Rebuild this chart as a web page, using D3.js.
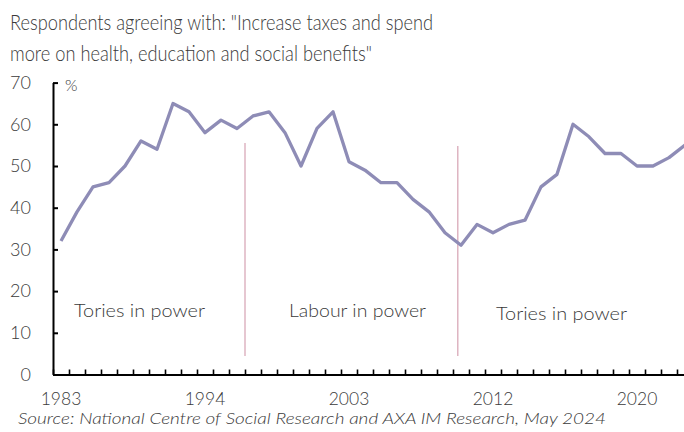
<!DOCTYPE html>
<html>
<head>
<meta charset="utf-8">
<script src="https://cdn.jsdelivr.net/npm/d3@7"></script>
<style>
  html, body { margin: 0; padding: 0; background: #ffffff; }
  svg { display: block; }
  text { font-family: Lato, "Open Sans", sans-serif; fill: #3a3a3a; }
</style>
</head>
<body>
<svg id="chart" width="684" height="432"></svg>
<script>
// ---- Data ----
const categories = ["1983","1984","1985","1986","1987","1989","1990","1991","1993","1994",
  "1995","1996","1997","1998","1999","2000","2001","2002","2003","2004",
  "2005","2006","2007","2008","2009","2010","2011","2012","2013","2014",
  "2015","2016","2017","2018","2019","2019b","2020","2021","2022","2023"];
const values = [32,39,45,46,50,56,54,65,63,58,
  61,59,62,63,58,50,59,63,51,49,
  46,46,42,39,34,31,36,34,36,37,
  45,48,60,57,53,53,50,50,52,55];
const xTickLabels = ["1983","1994","2003","2012","2020"];
const xTickLabelIndex = [0, 9, 18, 27, 36];
const yTicks = [0,10,20,30,40,50,60,70];
const eraLabels = ["Tories in power","Labour in power","Tories in power"];
const eraBoundaries = [12, 25.3]; // category-edge positions of government changes
const titleLines = ["Respondents agreeing with: \"Increase taxes and spend",
                    "more on health, education and social benefits\""];
const sourceText = "Source: National Centre of Social Research and AXA IM Research, May 2024";

// ---- Layout ----
const svg = d3.select("#chart");
svg.append("rect").attr("width",684).attr("height",432).attr("fill","#fff");

const plotLeft = 53, plotRight = 693, plotTop = 82.6, plotBottom = 374.5;

const x = d3.scaleBand().domain(d3.range(categories.length)).range([plotLeft, plotRight]).padding(0);
const xEdge = d3.scaleLinear().domain([0, categories.length]).range([plotLeft, plotRight]);
const y = d3.scaleLinear().domain([0, 70]).range([plotBottom, plotTop]);

// Title
svg.selectAll("text.title").data(titleLines).enter().append("text")
  .attr("class","title")
  .attr("x", 10).attr("y", (d,i) => 30 + i*31)
  .attr("font-size", 21)
  .attr("font-weight", 300)
  .attr("fill", "#2e2e2e")
  .attr("textLength", (d,i) => i === 0 ? 423 : 362)
  .attr("lengthAdjust", "spacingAndGlyphs")
  .text(d => d);

// Era divider lines
svg.selectAll("line.era").data(eraBoundaries).enter().append("line")
  .attr("class","era")
  .attr("x1", d => xEdge(d)).attr("x2", d => xEdge(d))
  .attr("y1", (d,i) => i === 0 ? 143 : 146).attr("y2", 356)
  .attr("stroke", "#d9a9b8").attr("stroke-width", 1.3);

// Era labels
const eraX = [139.5, 357.5, 561.5];
const eraY = [317, 317, 320];
const eraW = [131, 137, 131];
svg.selectAll("text.era").data(eraLabels).enter().append("text")
  .attr("class","era")
  .attr("x", (d,i) => eraX[i]).attr("y", (d,i) => eraY[i])
  .attr("text-anchor","middle")
  .attr("font-size", 17)
  .attr("font-weight", 300)
  .attr("fill", "#2a2a2a")
  .attr("textLength", (d,i) => eraW[i])
  .attr("lengthAdjust", "spacingAndGlyphs")
  .text(d => d);

// Y axis
const yAxis = d3.axisLeft(y).tickValues(yTicks).tickSize(-5).tickPadding(22).tickSizeOuter(0);
const gy = svg.append("g").attr("transform", `translate(${plotLeft},0)`).call(yAxis);
gy.select(".domain").attr("stroke","#000").attr("stroke-width",2);
gy.selectAll(".tick line").attr("stroke","#000").attr("stroke-width",2);
gy.selectAll(".tick text").attr("font-size",18).attr("font-weight",300)
  .attr("font-family","Lato, sans-serif").attr("fill","#333");

// % label
svg.append("text").attr("x", 65).attr("y", 91).attr("font-size", 16).attr("font-weight",300).text("%");

// X axis ticks (at category boundaries)
const xAxisTicks = d3.axisBottom(xEdge).tickValues(d3.range(categories.length + 1))
  .tickSize(-5).tickFormat("").tickSizeOuter(0);
const gx = svg.append("g").attr("transform", `translate(0,${plotBottom})`).call(xAxisTicks);
gx.select(".domain").attr("stroke","#000").attr("stroke-width",2);
gx.selectAll(".tick line").attr("stroke","#000").attr("stroke-width",1.6);

// X axis labels
const xAxisLabels = d3.axisBottom(x).tickValues(xTickLabelIndex)
  .tickFormat(d => xTickLabels[xTickLabelIndex.indexOf(d)]).tickSize(0).tickPadding(18);
const gxl = svg.append("g").attr("transform", `translate(0,${plotBottom})`).call(xAxisLabels);
gxl.select(".domain").remove();
gxl.selectAll(".tick text").attr("font-size",17.5).attr("font-weight",300)
  .attr("font-family","Lato, sans-serif").attr("fill","#333");

// Line
const line = d3.line().x((d,i) => x(i) + x.bandwidth()/2).y(d => y(d));
svg.append("path").datum(values)
  .attr("d", line)
  .attr("fill","none")
  .attr("stroke","#8e8cb6")
  .attr("stroke-width",3.3)
  .attr("stroke-linejoin","round");

// Source
svg.append("text").attr("x", 18).attr("y", 424)
  .attr("font-size", 16.5).attr("font-style","italic").attr("font-weight",300)
  .attr("fill", "#2a2a2a")
  .attr("textLength", 588).attr("lengthAdjust","spacingAndGlyphs")
  .text(sourceText);
</script>
</body>
</html>
